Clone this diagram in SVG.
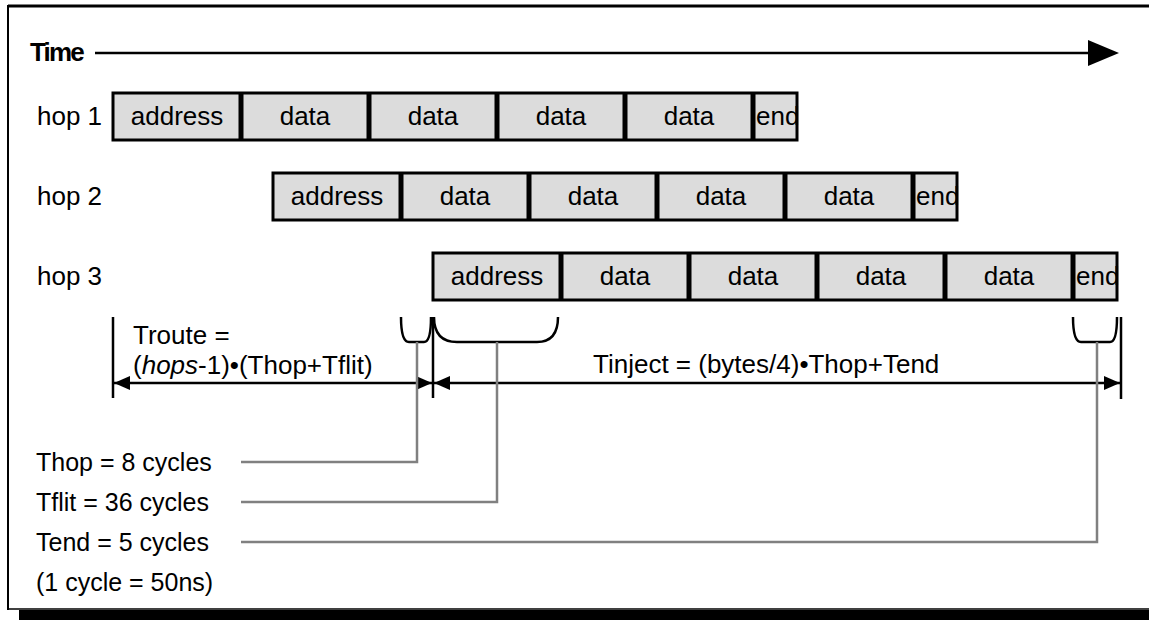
<svg xmlns="http://www.w3.org/2000/svg" width="1149" height="620" viewBox="0 0 1149 620">
<style>
.t{font-family:"Liberation Sans",Arial,Helvetica,sans-serif;font-size:26px;fill:#000}
.lg{font-size:25px}
.cell{fill:#dcdcdc;stroke:none}
.box{fill:none;stroke:#000;stroke-width:3}
.sep{stroke:#000;stroke-width:5}
.dim{stroke:#000;stroke-width:2.5;fill:none}
.brk{stroke:#000;stroke-width:2.5;fill:none}
.lead{stroke:#808080;stroke-width:2.5;fill:none}
</style>
<defs>
<marker id="ah" viewBox="0 0 16 14" refX="16" refY="7" markerWidth="16" markerHeight="14" markerUnits="userSpaceOnUse" orient="auto-start-reverse">
<path d="M0,0 L16,7 L0,14 Z" fill="#000"/>
</marker>
</defs>
<rect x="0" y="0" width="1149" height="620" fill="#fff"/>
<g id="frame">
<line x1="8" y1="6" x2="1149" y2="6" stroke="#000" stroke-width="3"/>
<line x1="8" y1="5" x2="8" y2="610" stroke="#000" stroke-width="2"/>
<line x1="8" y1="609" x2="1149" y2="609" stroke="#000" stroke-width="1.5"/>
<rect x="19" y="610" width="1130" height="10" fill="#000"/>
</g>
<g id="time-axis">
<text x="30" y="61" class="t" style="font-weight:bold;font-size:26px;letter-spacing:-1.8px">Time</text>
<line x1="95" y1="53" x2="1090" y2="53" stroke="#000" stroke-width="2.5"/>
<polygon points="1088,40 1119,53 1088,66" fill="#000"/>
</g>
<g id="hop1">
<text x="37" y="125" class="t">hop 1</text>
<rect class="cell" x="113" y="93" width="684" height="47"/>
<g class="t" text-anchor="middle">
<text x="177" y="125">address</text><text x="305" y="125">data</text><text x="433" y="125">data</text><text x="561" y="125">data</text><text x="689" y="125">data</text>
</g>
<text x="756" y="125" class="t">end</text>
<rect class="box" x="113" y="93" width="684" height="47"/>
<path class="sep" d="M241,93V140M369,93V140M497,93V140M625,93V140M753,93V140"/>
</g>
<g id="hop2">
<text x="37" y="205" class="t">hop 2</text>
<rect class="cell" x="273" y="173" width="684" height="47"/>
<g class="t" text-anchor="middle">
<text x="337" y="205">address</text><text x="465" y="205">data</text><text x="593" y="205">data</text><text x="721" y="205">data</text><text x="849" y="205">data</text>
</g>
<text x="916" y="205" class="t">end</text>
<rect class="box" x="273" y="173" width="684" height="47"/>
<path class="sep" d="M401,173V220M529,173V220M657,173V220M785,173V220M913,173V220"/>
</g>
<g id="hop3">
<text x="37" y="285" class="t">hop 3</text>
<rect class="cell" x="433" y="253" width="684" height="47"/>
<g class="t" text-anchor="middle">
<text x="497" y="285">address</text><text x="625" y="285">data</text><text x="753" y="285">data</text><text x="881" y="285">data</text><text x="1009" y="285">data</text>
</g>
<text x="1076" y="285" class="t">end</text>
<rect class="box" x="433" y="253" width="684" height="47"/>
<path class="sep" d="M561,253V300M689,253V300M817,253V300M945,253V300M1073,253V300"/>
</g>
<g id="troute">
<text x="133" y="344" class="t">Troute =</text>
<text x="133" y="374" class="t">(<tspan font-style="italic">hops</tspan>-1)•(Thop+Tflit)</text>
</g>
<g id="tinject">
<text x="593" y="373" class="t">Tinject = (bytes/4)•Thop+Tend</text>
</g>
<g id="legend">
<text x="36" y="471" class="t lg">Thop = 8 cycles</text>
<text x="36" y="511" class="t lg">Tflit = 36 cycles</text>
<text x="36" y="551" class="t lg">Tend = 5 cycles</text>
<text x="36" y="591" class="t lg">(1 cycle = 50ns)</text>
</g>
<g id="connectors">
<path class="brk" d="M401,317 Q401,342 409,342 H424 Q431,342 431,317"/>
<path class="brk" d="M434,317 Q434,342 457,342 H537 Q558,342 558,317"/>
<path class="brk" d="M1073,317 Q1073,342 1081,342 H1110 Q1117,342 1117,317"/>
<path class="dim" d="M113,317V398M433,317V398M1121,317V399"/>
<line class="dim" x1="114" y1="383" x2="432" y2="383" marker-start="url(#ah)" marker-end="url(#ah)"/>
<line class="dim" x1="434" y1="383" x2="1120" y2="383" marker-start="url(#ah)" marker-end="url(#ah)"/>
<polyline class="lead" points="241,462 417,462 417,342"/>
<polyline class="lead" points="241,502 497,502 497,342"/>
<polyline class="lead" points="241,542 1097,542 1097,342"/>
</g>
</svg>
